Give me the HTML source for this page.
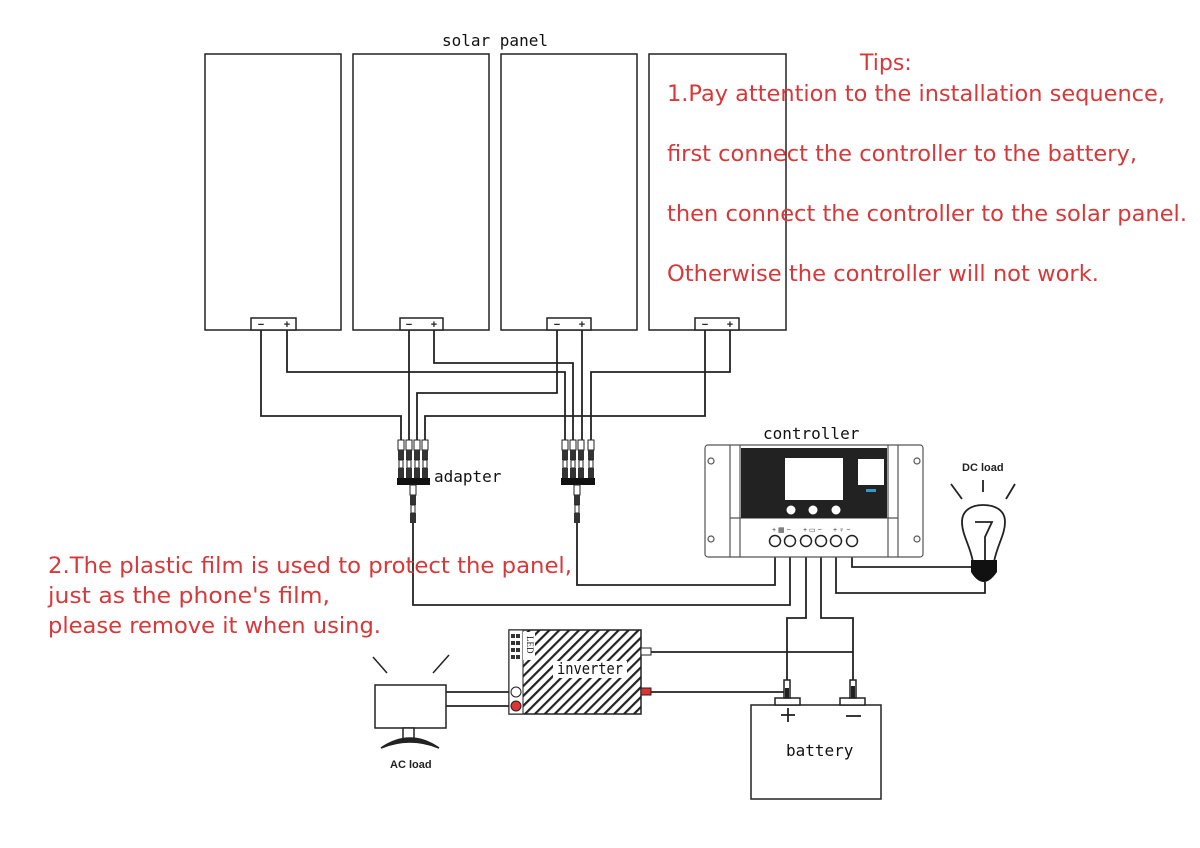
<!DOCTYPE html>
<html><head><meta charset="utf-8"><style>
html,body{margin:0;padding:0;background:#fff;width:1200px;height:848px;overflow:hidden}
svg{display:block}
.r{fill:#d8383a;font-family:"DejaVu Sans","Liberation Sans",sans-serif;font-size:22px}
.m{font-family:"DejaVu Sans Mono","Liberation Mono",monospace;font-size:16px;fill:#111}
.s{font-family:"Liberation Sans",sans-serif;font-weight:bold;font-size:11px;fill:#222}
</style></head><body>
<svg width="1200" height="848" viewBox="0 0 1200 848" xmlns="http://www.w3.org/2000/svg">
<defs>
<pattern id="h" patternUnits="userSpaceOnUse" width="7" height="7" patternTransform="rotate(45)">
<rect width="7" height="7" fill="#fff"/><rect x="0" y="0" width="2.2" height="7" fill="#222"/>
</pattern>
<g id="con">
<rect x="-3" y="0" width="6" height="10" fill="#fff" stroke="#222" stroke-width="1"/>
<rect x="-3" y="10" width="6" height="10" fill="#333"/>
<rect x="-2" y="20" width="4" height="8" fill="#fff" stroke="#222" stroke-width="1"/>
<rect x="-3" y="28" width="6" height="10" fill="#333"/>
</g>
</defs>
<g fill="#fff" stroke="#222" stroke-width="1.5">
<rect x="205" y="54" width="136" height="276"/>
<rect x="353" y="54" width="136" height="276"/>
<rect x="501" y="54" width="136" height="276"/>
<rect x="649" y="54" width="137" height="276"/>
<rect x="251" y="318" width="45" height="12"/>
<rect x="400" y="318" width="43" height="12"/>
<rect x="547" y="318" width="44" height="12"/>
<rect x="695" y="318" width="44" height="12"/>
</g>
<g font-family="Liberation Sans,sans-serif" font-size="11" font-weight="bold" fill="#222" text-anchor="middle">
<text x="261" y="328">−</text><text x="287" y="328">+</text>
<text x="409" y="328">−</text><text x="434" y="328">+</text>
<text x="557" y="328">−</text><text x="582" y="328">+</text>
<text x="705" y="328">−</text><text x="730" y="328">+</text>
</g>
<text class="m" x="442" y="46">solar panel</text>
<g fill="none" stroke="#222" stroke-width="1.8">
<polyline points="261,330 261,416 401,416 401,440"/>
<polyline points="409,330 409,440"/>
<polyline points="557,330 557,393 417,393 417,440"/>
<polyline points="705,330 705,416 425,416 425,440"/>
<polyline points="287,330 287,372 565,372 565,440"/>
<polyline points="434,330 434,363 573,363 573,440"/>
<polyline points="582,330 582,440"/>
<polyline points="730,330 730,372 591,372 591,440"/>
<polyline points="413,520 413,605 790,605 790,557"/>
<polyline points="577,520 577,585 775,585 775,557"/>
<polyline points="806,557 806,618 787,618 787,680"/>
<polyline points="821,557 821,618 853,618 853,680"/>
<polyline points="836,557 836,593 985,593 985,582"/>
<polyline points="852,557 852,567 972,567"/>
<polyline points="651,652 853,652"/>
<polyline points="651,692 787,692"/>
<polyline points="446,692 509,692"/>
<polyline points="446,706 509,706"/>
</g>
<g>
<use href="#con" x="401" y="440"/><use href="#con" x="409" y="440"/><use href="#con" x="417" y="440"/><use href="#con" x="425" y="440"/>
<rect x="397" y="478" width="33" height="7" fill="#111"/>
<use href="#con" x="413" y="485"/>
<use href="#con" x="565" y="440"/><use href="#con" x="573" y="440"/><use href="#con" x="581" y="440"/><use href="#con" x="591" y="440"/>
<rect x="561" y="478" width="34" height="7" fill="#111"/>
<use href="#con" x="577" y="485"/>
</g>
<text class="m" x="434" y="482">adapter</text>
<text class="m" x="763" y="439">controller</text>
<g stroke="#555" stroke-width="1.2" fill="#fff">
<rect x="705" y="445" width="218" height="112" rx="3"/>
<line x1="730" y1="445" x2="730" y2="557"/><line x1="740" y1="445" x2="740" y2="557"/>
<line x1="888" y1="445" x2="888" y2="557"/><line x1="898" y1="445" x2="898" y2="557"/>
<line x1="730" y1="518" x2="898" y2="518"/>
<circle cx="711" cy="461" r="3"/><circle cx="711" cy="539" r="3"/>
<circle cx="917" cy="461" r="3"/><circle cx="917" cy="539" r="3"/>
</g>
<rect x="741" y="448" width="146" height="70" fill="#222"/>
<rect x="785" y="458" width="58" height="42" fill="#fff"/>
<rect x="858" y="459" width="26" height="26" fill="#fff"/>
<rect x="866" y="489" width="10" height="3" fill="#39c"/>
<g fill="#fff" stroke="#222"><circle cx="791" cy="510" r="5"/><circle cx="813" cy="510" r="5"/><circle cx="836" cy="510" r="5"/></g>
<g fill="#fff" stroke="#222" stroke-width="1.5">
<circle cx="775" cy="541" r="5.5"/><circle cx="790" cy="541" r="5.5"/><circle cx="806" cy="541" r="5.5"/>
<circle cx="821" cy="541" r="5.5"/><circle cx="836" cy="541" r="5.5"/><circle cx="852" cy="541" r="5.5"/>
</g>
<g font-family="Liberation Sans,sans-serif" font-size="7" fill="#333"><text x="772" y="532">+ ▦ −</text><text x="803" y="532">+ ▭ −</text><text x="833" y="532">+ ♀ −</text></g>
<text class="s" x="962" y="471">DC load</text>
<g stroke="#222" stroke-width="1.8" fill="none">
<line x1="951" y1="484" x2="962" y2="499"/><line x1="983" y1="480" x2="983" y2="492"/><line x1="1015" y1="484" x2="1006" y2="499"/>
<path d="M973,562 C970,545 962,535 962,522 C962,510 972,505 983,505 C995,505 1005,510 1005,522 C1005,535 997,545 994,562 Z" fill="#fff"/>
<polyline points="975,522 992,522 985,537 985,562"/>
</g>
<path d="M971,560 L997,560 L997,572 Q990,582 984,582 Q977,582 971,572 Z" fill="#111"/>
<g fill="#fff" stroke="#222" stroke-width="1.5">
<rect x="751" y="705" width="130" height="94"/>
<rect x="775" y="698" width="25" height="7"/><rect x="840" y="698" width="25" height="7"/>
<rect x="784" y="680" width="6" height="18"/><rect x="850" y="680" width="6" height="18"/>
</g>
<rect x="785" y="688" width="4" height="10" fill="#222"/><rect x="851" y="686" width="4" height="12" fill="#222"/>
<g stroke="#222" stroke-width="1.8"><line x1="781" y1="715" x2="795" y2="715"/><line x1="788" y1="708" x2="788" y2="722"/><line x1="846" y1="716" x2="861" y2="716"/></g>
<text class="m" x="786" y="756">battery</text>
<rect x="509" y="630" width="132" height="84" fill="url(#h)" stroke="#222" stroke-width="1.5"/>
<rect x="509" y="630" width="14" height="84" fill="#fff" stroke="#222"/>
<rect x="523" y="632" width="12" height="28" fill="#fff"/>
<g fill="#333"><rect x="511" y="634" width="4" height="4"/><rect x="516" y="634" width="4" height="4"/><rect x="511" y="641" width="4" height="4"/><rect x="516" y="641" width="4" height="4"/><rect x="511" y="648" width="4" height="4"/><rect x="516" y="648" width="4" height="4"/><rect x="511" y="655" width="4" height="4"/><rect x="516" y="655" width="4" height="4"/></g>
<text x="527" y="636" font-family="Liberation Serif,serif" font-size="9" transform="rotate(90 527 636)" fill="#222">LED</text>
<circle cx="516" cy="692" r="5" fill="#fff" stroke="#222"/>
<circle cx="516" cy="706" r="5" fill="#d33" stroke="#222"/>
<rect x="553" y="661" width="74" height="17" fill="#fff"/>
<text class="m" x="557" y="674" font-size="14" textLength="66" lengthAdjust="spacingAndGlyphs">inverter</text>
<rect x="641" y="648" width="10" height="7" fill="#fff" stroke="#222"/>
<rect x="641" y="688" width="10" height="7" fill="#d33" stroke="#222"/>
<g stroke="#222" stroke-width="1.5" fill="#fff">
<line x1="373" y1="657" x2="387" y2="673" fill="none"/><line x1="449" y1="655" x2="433" y2="673" fill="none"/>
<rect x="375" y="685" width="71" height="43"/>
<rect x="403" y="728" width="11" height="12"/>
<path d="M381,748 Q410,728 439,748 Q410,736 381,748 Z" fill="#222"/>
</g>
<text class="s" x="390" y="768" font-size="12">AC load</text>
<text class="r" x="860" y="70">Tips:</text>
<text class="r" x="667" y="101" textLength="498" lengthAdjust="spacingAndGlyphs">1.Pay attention to the installation sequence,</text>
<text class="r" x="667" y="161" textLength="470" lengthAdjust="spacingAndGlyphs">first connect the controller to the battery,</text>
<text class="r" x="667" y="221" textLength="520" lengthAdjust="spacingAndGlyphs">then connect the controller to the solar panel.</text>
<text class="r" x="667" y="281" textLength="432" lengthAdjust="spacingAndGlyphs">Otherwise the controller will not work.</text>
<text class="r" x="48" y="573" textLength="524" lengthAdjust="spacingAndGlyphs">2.The plastic film is used to protect the panel,</text>
<text class="r" x="48" y="603" textLength="282" lengthAdjust="spacingAndGlyphs">just as the phone's film,</text>
<text class="r" x="48" y="633" textLength="333" lengthAdjust="spacingAndGlyphs">please remove it when using.</text>
</svg>
</body></html>
